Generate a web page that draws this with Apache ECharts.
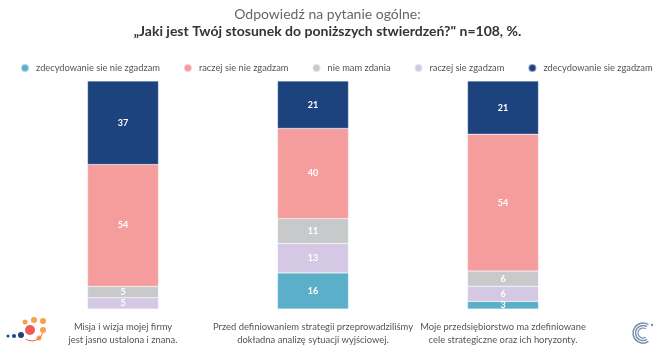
<!DOCTYPE html>
<html>
<head>
<meta charset="utf-8">
<script src="https://cdn.jsdelivr.net/npm/echarts@6/dist/echarts.min.js"></script>
<style>
html,body{margin:0;padding:0;background:#fff;}
#chart{width:655px;height:351px;}
</style>
</head>
<body>
<div id="chart"></div>
<script>
// statements under the bars
var categories = [
	'Misja i wizja mojej firmy\njest jasno ustalona i znana.',
	'Przed definiowaniem strategii przeprowadziliśmy\ndokładna analizę sytuacji wyjściowej.',
	'Moje przedsiębiorstwo ma zdefiniowane\ncele strategiczne oraz ich horyzonty.'
];

// answers, % of n=108
var zdecydowanieNie = [0, 16, 3];
var raczejNie = [54, 40, 54];
var nieMamZdania = [5, 11, 6];
var raczejTak = [5, 13, 6];
var zdecydowanieTak = [37, 21, 21];

var legendNames = ['zdecydowanie sie nie zgadzam', 'raczej sie nie zgadzam', 'nie mam zdania', 'raczej sie zgadzam', 'zdecydowanie sie zgadzam'];

var colors = {
	'zdecydowanie sie nie zgadzam': '#5BAFC9',
	'raczej sie nie zgadzam': '#F59D9D',
	'nie mam zdania': '#C8C9CB',
	'raczej sie zgadzam': '#D5C8E4',
	'zdecydowanie sie zgadzam': '#1D437F'
};

// stacking order, bottom to top
var stackOrder = [
	['zdecydowanie sie nie zgadzam', zdecydowanieNie],
	['raczej sie zgadzam', raczejTak],
	['nie mam zdania', nieMamZdania],
	['raczej sie nie zgadzam', raczejNie],
	['zdecydowanie sie zgadzam', zdecydowanieTak]
];

var totals = categories.map(function(c, i){
	var s = 0;
	stackOrder.forEach(function(p){ s += p[1][i]; });
	return s;
});

var series = stackOrder.map(function(p){
	return {
		name: p[0],
		type: 'bar',
		stack: 'all',
		barWidth: 71,
		itemStyle: {color: colors[p[0]], borderColor: 'rgba(255,255,255,0.5)', borderWidth: 0.5},
		label: {
			show: true,
			color: '#fff',
			fontFamily: 'Lato',
			fontWeight: 'bold',
			fontSize: 9,
			formatter: function(o){ return o.data.raw > 0 ? o.data.raw : ''; }
		},
		data: p[1].map(function(v, i){
			return {value: v / totals[i] * 100, raw: v};
		})
	};
});

var myChart = echarts.init(document.getElementById('chart'));
var option = {
	animation: false,
	title: [{
		text: 'Odpowiedź na pytanie ogólne:',
		left: 'center',
		top: 2,
		textStyle: {fontFamily: 'Lato', fontWeight: 'normal', fontSize: 14, color: '#666'}
	}, {
		text: '„Jaki jest Twój stosunek do poniższych stwierdzeń?" n=108, %.',
		left: 'center',
		top: 19,
		textStyle: {fontFamily: 'Lato', fontWeight: 'bold', fontSize: 14, color: '#333'}
	}],
	legend: {
		data: legendNames,
		top: 58,
		left: 15,
		width: 640,
		icon: 'circle',
		itemWidth: 8,
		itemHeight: 8,
		itemGap: 23,
		textStyle: {fontFamily: 'Lato', fontSize: 9.3, color: '#555', padding: [0, 0, 0, 2]}
	},
	grid: {left: 28, width: 570, top: 81, height: 228},
	xAxis: {
		type: 'category',
		data: categories,
		axisLine: {show: false},
		axisTick: {show: false},
		axisLabel: {interval: 0, fontFamily: 'Lato', fontSize: 9.4, color: '#555', lineHeight: 13, margin: 11}
	},
	yAxis: {
		type: 'value',
		min: 0,
		max: 100,
		show: false
	},
	graphic: [
		// left logo
		{type: 'circle', shape: {cx: 8, cy: 336, r: 1.5}, style: {fill: '#1D437F'}},
		{type: 'circle', shape: {cx: 14, cy: 336, r: 2}, style: {fill: '#1D437F'}},
		{type: 'circle', shape: {cx: 21, cy: 335, r: 3}, style: {fill: '#1D437F'}},
		{type: 'circle', shape: {cx: 30, cy: 330, r: 5}, style: {fill: '#F15A5A'}},
		{type: 'circle', shape: {cx: 25, cy: 322, r: 2.5}, style: {fill: '#F7A24B'}},
		{type: 'circle', shape: {cx: 34, cy: 320, r: 3}, style: {fill: '#F7A24B'}},
		{type: 'circle', shape: {cx: 43, cy: 321, r: 3}, style: {fill: '#F7A24B'}},
		{type: 'circle', shape: {cx: 43, cy: 330, r: 3}, style: {fill: '#F7A24B'}},
		{type: 'circle', shape: {cx: 39, cy: 338, r: 2.5}, style: {fill: '#F7A24B'}},
		{type: 'arc', shape: {cx: 32, cy: 330, r: 11, startAngle: 0.3, endAngle: 2.2}, style: {stroke: '#F15A5A', lineWidth: 1, fill: null}},
		// right logo
		{type: 'arc', shape: {cx: 643, cy: 333, r: 10, startAngle: -1.0, endAngle: 1.0, clockwise: false}, style: {stroke: '#7A8FB0', lineWidth: 1.5, fill: null}},
		{type: 'arc', shape: {cx: 643, cy: 333, r: 7.5, startAngle: -1.0, endAngle: 1.0, clockwise: false}, style: {stroke: '#7A8FB0', lineWidth: 1.5, fill: null}},
		{type: 'arc', shape: {cx: 643, cy: 333, r: 5, startAngle: -1.0, endAngle: 1.0, clockwise: false}, style: {stroke: '#7A8FB0', lineWidth: 1.2, fill: null}},
		{type: 'circle', shape: {cx: 652, cy: 325, r: 1.2}, style: {fill: '#7A8FB0'}}
	],
	series: series
};
myChart.setOption(option);
</script>
</body>
</html>
